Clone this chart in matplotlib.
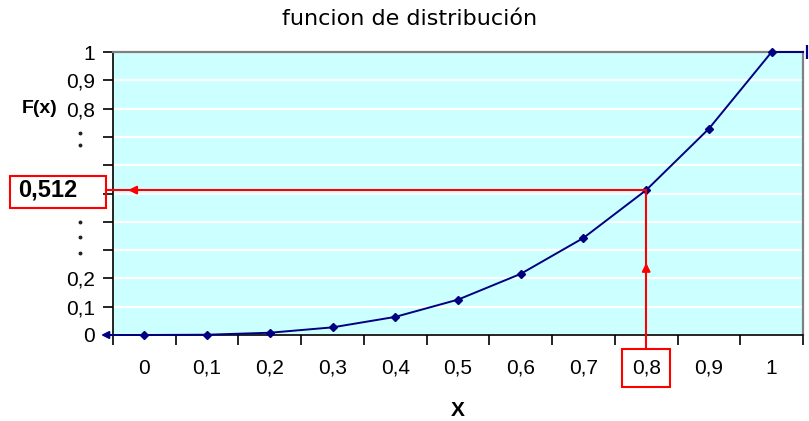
"""
Distribution function F(x) = x^3 on [0, 1], Excel-style line chart.
"""

import numpy as np
import matplotlib.pyplot as plt
from matplotlib.patches import Rectangle
from matplotlib.transforms import blended_transform_factory

plt.rcParams["font.family"] = ["Liberation Sans", "DejaVu Sans"]

# Data
x_vals = [0, 0.1, 0.2, 0.3, 0.4, 0.5, 0.6, 0.7, 0.8, 0.9, 1.0]
f_vals = [0, 0.001, 0.008, 0.027, 0.064, 0.125, 0.216, 0.343, 0.512, 0.729, 1.0]
x_tick_labels = ["0", "0,1", "0,2", "0,3", "0,4", "0,5", "0,6", "0,7", "0,8", "0,9", "1"]
y_ticks = [0, 0.1, 0.2, 0.3, 0.4, 0.5, 0.6, 0.7, 0.8, 0.9, 1.0]
y_tick_labels = ["0", "0,1", "0,2", "", "", "", "", "", "0,8", "0,9", "1"]
dot_label_y = [0.714, 0.671, 0.399, 0.346, 0.290]   # the elided ". :" labels

# Highlighted reading: F(0.8) = 0.512
x_read = 0.8
f_read = 0.512

# Tails of the distribution outside [0, 1]
x_left, x_right = -0.05, 1.05

navy = "#000080"
red = "#FF0000"

fig = plt.figure(figsize=(8.09, 4.21), dpi=100)
ax = fig.add_axes([113 / 809, 1 - 335 / 421, 690 / 809, 283 / 421])
ax.set_facecolor("#CCFFFF")

ax.set_xlim(x_left, x_right)
ax.set_ylim(0, 1)

# Grid
ax.set_yticks(y_ticks)
ax.set_yticklabels(y_tick_labels)
ax.grid(axis="y", color="white", linewidth=1.6)
ax.set_axisbelow(True)

# Category-style x axis: ticks between categories, labels centered
ax.set_xticks(x_vals)
ax.set_xticklabels(x_tick_labels)
ax.set_xticks(np.arange(x_left, x_right + 0.001, 0.1), minor=True)
ax.tick_params(axis="x", which="major", length=0, pad=17, labelsize=15)
ax.tick_params(axis="x", which="minor", length=7, width=1.2, color="black")
ax.tick_params(axis="y", which="major", length=7, width=1.2, pad=6, labelsize=15)

for side in ["left", "bottom"]:
    ax.spines[side].set_color("black")
    ax.spines[side].set_linewidth(1.2)
for side in ["top", "right"]:
    ax.spines[side].set_color("#808080")
    ax.spines[side].set_linewidth(1.6)

# Series
ax.plot([x_left] + x_vals + [x_right], [0] + f_vals + [1],
        color=navy, linewidth=1.4, clip_on=False, zorder=5)
ax.plot(x_vals, f_vals, linestyle="none", marker="D", markersize=4.5,
        color=navy, clip_on=False, zorder=6)
# Tail ends: arrow on the left, bar on the right
ax.annotate("", xy=(x_left - 0.019, 0), xytext=(x_left, 0),
            arrowprops=dict(arrowstyle="-|>", color=navy, lw=1.4,
                            mutation_scale=11, shrinkA=0, shrinkB=0),
            annotation_clip=False, zorder=6)
ax.plot([x_right + 0.006], [1], marker="|", markersize=10, markeredgewidth=1.6,
        color=navy, clip_on=False, zorder=6)

ax_x = blended_transform_factory(ax.transAxes, ax.transData)

# Elided y labels drawn as dots
ax.plot([-0.048] * len(dot_label_y), dot_label_y, linestyle="none", marker="o",
        markersize=1.8, color="#222222", transform=ax_x, clip_on=False)

# Reading lines from the 0.8 point out to the boxed labels
ax.plot([-0.0612, x_read], [f_read, f_read], color=red, linewidth=1.5,
        clip_on=False, zorder=7)
ax.annotate("", xy=(-0.026, f_read), xytext=(-0.012, f_read),
            arrowprops=dict(arrowstyle="-|>", color=red, lw=1.5,
                            mutation_scale=12, shrinkA=0, shrinkB=0),
            annotation_clip=False, zorder=7)
ax.plot([x_read, x_read], [f_read, -0.05], color=red, linewidth=1.5,
        clip_on=False, zorder=7)
ax.annotate("", xy=(x_read, 0.255), xytext=(x_read, 0.23),
            arrowprops=dict(arrowstyle="-|>", color=red, lw=1.5,
                            mutation_scale=12, shrinkA=0, shrinkB=0),
            annotation_clip=False, zorder=7)

# Boxed value on the F axis
fig.patches.append(Rectangle((10 / 809, 1 - 208 / 421), 96 / 809, 32 / 421,
                             transform=fig.transFigure, facecolor="none",
                             edgecolor=red, linewidth=1.5))
ax.text(-0.138, f_read, "0,512", transform=ax_x, ha="left", va="center",
        fontsize=17, fontweight="bold", zorder=8)
for lbl in ax.get_xticklabels():
    if lbl.get_text() == "0,8":
        lbl.set_bbox(dict(boxstyle="square,pad=0.45", facecolor="none",
                          edgecolor=red, linewidth=1.5))

ax.text(-0.106, 0.8, "F(x)", transform=ax_x, ha="center", va="center",
        fontsize=14, fontweight="bold")
ax.set_xlabel("X", fontsize=15, fontweight="bold", labelpad=17)

fig.text(0.506, 1 - 19 / 421, "funcion de distribución", ha="center",
         va="center", fontsize=16, family=["DejaVu Sans"])

plt.savefig("out.png", dpi=100)
plt.close(fig)
